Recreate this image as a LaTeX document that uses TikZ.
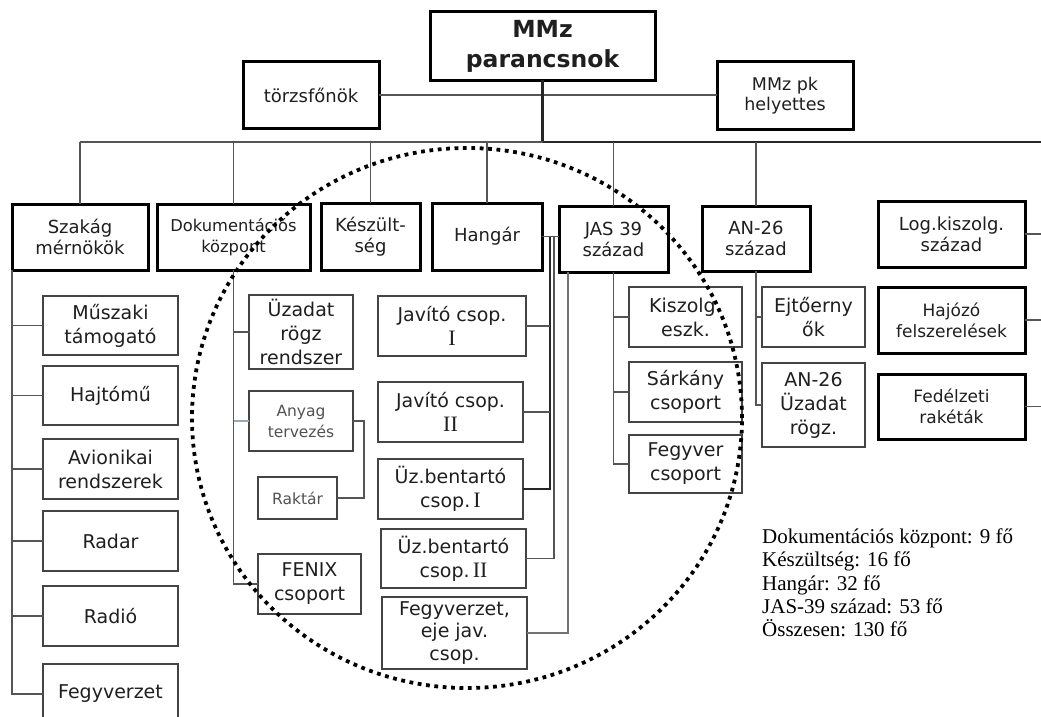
\documentclass[tikz,border=0pt]{standalone}
\usepackage{fontspec}
\setmainfont{DejaVu Sans}
\newfontfamily\serifnum{Liberation Serif}
\newfontfamily\legendfont{Liberation Serif}
\newcommand\fsz[2]{\fontsize{#1}{#2}\selectfont}
\newcommand\rnum[1]{{\serifnum\fontsize{22}{24}\selectfont #1}}
\definecolor{boxline}{HTML}{444444}
\definecolor{connline}{HTML}{555555}
\definecolor{paleline}{HTML}{9AA6BE}
\begin{document}
\begin{tikzpicture}[x=1pt,y=-1pt,
  headbox/.style={draw=black, line width=3pt, fill=white, inner sep=0pt, outer sep=0pt,
    align=center, text=black!88, font=\fsz{18}{21}},
  subbox/.style={draw=boxline, line width=1.4pt, fill=white, inner sep=0pt, outer sep=0pt,
    align=center, text=black!88, font=\fsz{19}{24}},
  lightbox/.style={subbox, line width=1.1pt, text=black!68, font=\fsz{15.5}{21}},
  conn/.style={draw=connline, line width=1.4pt},
  darkconn/.style={draw=black!85, line width=2.2pt},
  paleconn/.style={draw=paleline, line width=1.2pt},
  ring/.style={draw=black, line width=3.8pt, dash pattern=on 3.8pt off 4.6pt},
  legendline/.style={anchor=base west, inner sep=0pt, font=\legendfont\fsz{21}{23}}]

\clip (0,0) rectangle (1041,717);
\fill[white] (0,0) rectangle (1041,717);

% command level
\node[headbox, minimum width=225pt, minimum height=68pt, font=\bfseries\fsz{23.5}{30}]
  (mmz) at (542.5,46) {MMz\\parancsnok};
\node[headbox, minimum width=136pt, minimum height=66pt] (torzs) at (311,95) {törzsfőnök};
\node[headbox, minimum width=136pt, minimum height=67pt, font=\fsz{17.5}{20}]
  (helyettes) at (785,95.5) {MMz pk\\helyettes};

% departments
\node[headbox, minimum width=136pt, minimum height=66pt] (szakag) at (80,237) {Szakág\\mérnökök};
\node[headbox, minimum width=153pt, minimum height=66pt, font=\fsz{16.3}{21}]
  (dok) at (233.5,237) {Dokumentációs\\központ};
\node[headbox, minimum width=99pt, minimum height=67pt] (kesz) at (370.5,236.5) {Készült-\\ség};
\node[headbox, minimum width=110pt, minimum height=67pt] (hangar) at (487,236.5) {Hangár};
\node[headbox, minimum width=109pt, minimum height=66pt] (jas) at (613.5,239) {JAS 39\\század};
\node[headbox, minimum width=108pt, minimum height=65pt] (an26) at (756,238.5) {AN-26\\század};
\node[headbox, minimum width=147pt, minimum height=66pt] (log) at (951.5,234) {Log.kiszolg.\\század};
\node[headbox, minimum width=147pt, minimum height=66pt, font=\fsz{17}{21}] (hajozo) at (951.5,320) {Hajózó\\felszerelések};
\node[headbox, minimum width=147pt, minimum height=65pt, font=\fsz{17}{21}] (fedel) at (951.5,406.5) {Fedélzeti\\rakéták};

% Szakág mérnökök groups
\node[subbox, minimum width=135pt, minimum height=59pt] (muszaki) at (110.5,325.5) {Műszaki\\támogató};
\node[subbox, minimum width=135pt, minimum height=59pt] (hajtomu) at (110.5,395.5) {Hajtómű};
\node[subbox, minimum width=135pt, minimum height=60pt] (avion) at (110.5,469) {Avionikai\\rendszerek};
\node[subbox, minimum width=135pt, minimum height=60pt] (radar) at (110.5,541) {Radar};
\node[subbox, minimum width=135pt, minimum height=60pt] (radio) at (110.5,616) {Radió};
\node[subbox, minimum width=135pt, minimum height=60pt] (fegyv) at (110.5,694) {Fegyverzet};

% Dokumentációs központ groups
\node[subbox, minimum width=104pt, minimum height=74pt] (uzadat) at (301,332) {Üzadat\\rögz\\rendszer};
\node[lightbox, minimum width=104pt, minimum height=60pt] (anyag) at (301,421) {Anyag\\tervezés};
\node[lightbox, minimum width=79pt, minimum height=42pt] (raktar) at (297.5,498) {Raktár};
\node[subbox, minimum width=103pt, minimum height=60pt] (fenix) at (309.5,584) {FENIX\\csoport};

% Hangár groups
\node[subbox, minimum width=148pt, minimum height=60pt] (jav1) at (452,326) {Javító csop.\\\rnum{I}};
\node[subbox, minimum width=145pt, minimum height=60pt] (jav2) at (450.5,412) {Javító csop.\\\rnum{II}};
\node[subbox, minimum width=145pt, minimum height=60pt] (uzb1) at (450.5,489) {Üz.bentartó\\csop.\,\rnum{I}};
\node[subbox, minimum width=145pt, minimum height=59pt] (uzb2) at (453.5,558.5) {Üz.bentartó\\csop.\,\rnum{II}};
\node[subbox, minimum width=145pt, minimum height=72pt, font=\fsz{19}{22.5}]
  (fegyeje) at (454.5,633) {Fegyverzet,\\eje jav.\\csop.};

% JAS 39 század groups
\node[subbox, minimum width=113pt, minimum height=60pt] (kiszolg) at (685.5,317) {Kiszolg.\\eszk.};
\node[subbox, minimum width=113pt, minimum height=60pt] (sarkany) at (685.5,392) {Sárkány\\csoport};
\node[subbox, minimum width=113pt, minimum height=58pt] (fegyver) at (685.5,464) {Fegyver\\csoport};

% AN-26 század groups
\node[subbox, minimum width=103pt, minimum height=60pt] (ejto) at (813.5,317) {Ejtőerny\\ők};
\node[subbox, minimum width=103pt, minimum height=84pt] (an26uz) at (813.5,405) {AN-26\\Üzadat\\rögz.};

% bus lines
\coordinate (bus) at (0,142);
\coordinate (redge) at (1041,0);
\draw[conn] (torzs.east) -- (torzs.east -| helyettes.west);
\draw[darkconn] (mmz.south) -- (mmz.south |- bus) -- (bus -| redge);
\draw[conn] (mmz.south |- bus) -- (szakag.north |- bus);
\foreach \d in {szakag,dok,kesz,hangar,jas,an26}
  \draw[conn] (\d.north) -- (\d.north |- bus);
\foreach \d in {log,hajozo,fedel}
  \draw[conn] (\d.east) -- (\d.east -| redge);

% Szakág mérnökök branch
\draw[conn, line width=1.8pt] (szakag.south west) -- (szakag.south west |- fegyv.west) -- (fegyv.west);
\foreach \g in {muszaki,hajtomu,avion,radar,radio}
  \draw[conn] (szakag.south west |- \g.west) -- (\g.west);

% Dokumentációs központ branch
\draw[conn] (dok.south) |- (fenix.west);
\draw[conn] (dok.south |- uzadat.west) -- (uzadat.west);
\draw[paleconn] (dok.south |- anyag.west) -- (anyag.west);
\draw[conn] (anyag.east) -- ++(11,0) |- (raktar.east);

% Hangár branch
\coordinate (hA) at ([xshift=8pt]hangar.east);
\coordinate (hB) at ([xshift=12pt]hangar.east);
\draw[conn] (hangar.east) -- (hangar.east -| jas.west);
\draw[darkconn, line width=1.8pt] (hA) |- (uzb1.east);
\draw[conn] (jav1.east) -- (jav1.east -| hA);
\draw[conn] (jav2.east) -- (jav2.east -| hA);
\draw[conn] (hB) |- (uzb2.east);
\draw[conn, draw=black!55] ([xshift=9pt]jas.south west) |- (fegyeje.east);

% JAS 39 század branch
\draw[conn] (jas.south) |- (fegyver.west);
\foreach \g in {kiszolg,sarkany}
  \draw[conn] (jas.south |- \g.west) -- (\g.west);

% AN-26 század branch
\draw[conn] (an26.south) |- (an26uz.west);
\draw[conn] (an26.south |- ejto.west) -- (ejto.west);

% staff summary
\node[legendline] (leg1) at (762,543) {Dokumentációs központ: 9 fő};
\node[legendline] (leg2) at (762,566.5) {Készültség: 16 fő};
\node[legendline] (leg3) at (762,590) {Hangár: 32 fő};
\node[legendline] (leg4) at (762,613) {JAS-39 század: 53 fő};
\node[legendline] (leg5) at (762,636) {Összesen: 130 fő};

% the units under study
\draw[ring] (467,418) ellipse [x radius=275pt, y radius=270pt];
\end{tikzpicture}
\end{document}
